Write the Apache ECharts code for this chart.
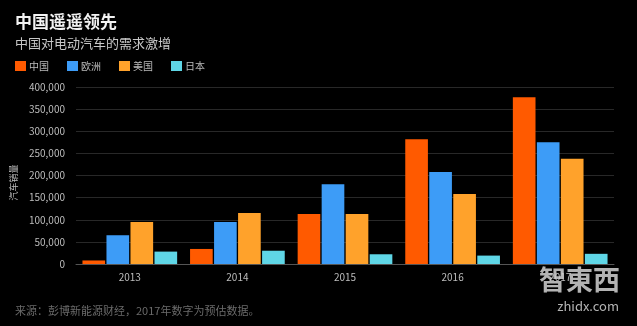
<!DOCTYPE html>
<html><head><meta charset="utf-8">
<script src="https://cdn.jsdelivr.net/npm/echarts@6/dist/echarts.min.js"></script>
<style>html,body{margin:0;padding:0;background:#000;}#c{width:637px;height:326px;}</style>
</head><body><div id="c"></div>
<script>
const years = ['2013', '2014', '2015', '2016', '2017'];
const seriesNames = ['中国', '欧洲', '美国', '日本'];
const china = [8000, 34000, 113000, 282000, 377000];
const europe = [65000, 95000, 180000, 208000, 275000];
const usa = [95000, 115000, 113000, 158000, 238000];
const japan = [28000, 30000, 22000, 19000, 23000];
const colors = ['#ff5a00', '#3d9cf7', '#ffa22b', '#5fd6e6'];
const font = '"Noto Sans CJK SC", "Noto Sans", sans-serif';

const chart = echarts.init(document.getElementById('c'));
const values = [china, europe, usa, japan];
chart.setOption({
  backgroundColor: '#000',
  animation: false,
  textStyle: { fontFamily: font },
  title: [
    { text: '中国遥遥领先', left: 10, top: 8, textStyle: { color: '#f2f2f2', fontSize: 17, fontWeight: 'bold', fontFamily: font } },
    { text: '中国对电动汽车的需求激增', left: 10, top: 32, textStyle: { color: '#c8c8c8', fontSize: 13, fontWeight: 'normal', fontFamily: font } },
    { text: '来源：彭博新能源财经，2017年数字为预估数据。', left: 10, top: 300, textStyle: { color: '#6a6a6a', fontSize: 11, fontWeight: 'normal', fontFamily: font } }
  ],
  legend: {
    left: 10, top: 56, itemWidth: 11, itemHeight: 10, itemGap: 18,
    icon: 'rect',
    textStyle: { color: '#bbbbbb', fontSize: 10, fontFamily: font, padding: [0, 0, 0, -2] },
    data: seriesNames
  },
  grid: { left: 76, right: 23, top: 87, bottom: 62 },
  xAxis: {
    type: 'category', data: years,
    axisLine: { show: true, lineStyle: { color: '#555' } },
    axisTick: { show: false },
    axisLabel: { color: '#bdbdbd', fontSize: 10, margin: 8 }
  },
  yAxis: {
    type: 'value', min: 0, max: 400000, interval: 50000,
    name: '汽车销量', nameLocation: 'middle', nameGap: 56, nameRotate: 90,
    nameTextStyle: { color: '#bdbdbd', fontSize: 9, padding: [0, 14, 0, 0] },
    axisLine: { show: false }, axisTick: { show: false },
    axisLabel: { color: '#bdbdbd', fontSize: 10, margin: 11,
      formatter: v => v.toLocaleString('en-US') },
    splitLine: { lineStyle: { color: '#282828', width: 1 } }
  },
  series: values.map((d, i) => ({
    name: seriesNames[i], type: 'bar', data: d,
    itemStyle: { color: colors[i] },
    barGap: '6%', barCategoryGap: '12%'
  })),
  graphic: [
    { type: 'text', right: 17, top: 266, z: 100,
      style: { text: '智東西', fill: 'rgba(210,210,210,0.85)', fontSize: 27, fontFamily: font, fontWeight: 'bold' } },
    { type: 'text', right: 18, top: 300, z: 100,
      style: { text: 'zhidx.com', fill: 'rgba(210,210,210,0.85)', fontSize: 13, fontFamily: font } }
  ]
});
</script></body></html>
